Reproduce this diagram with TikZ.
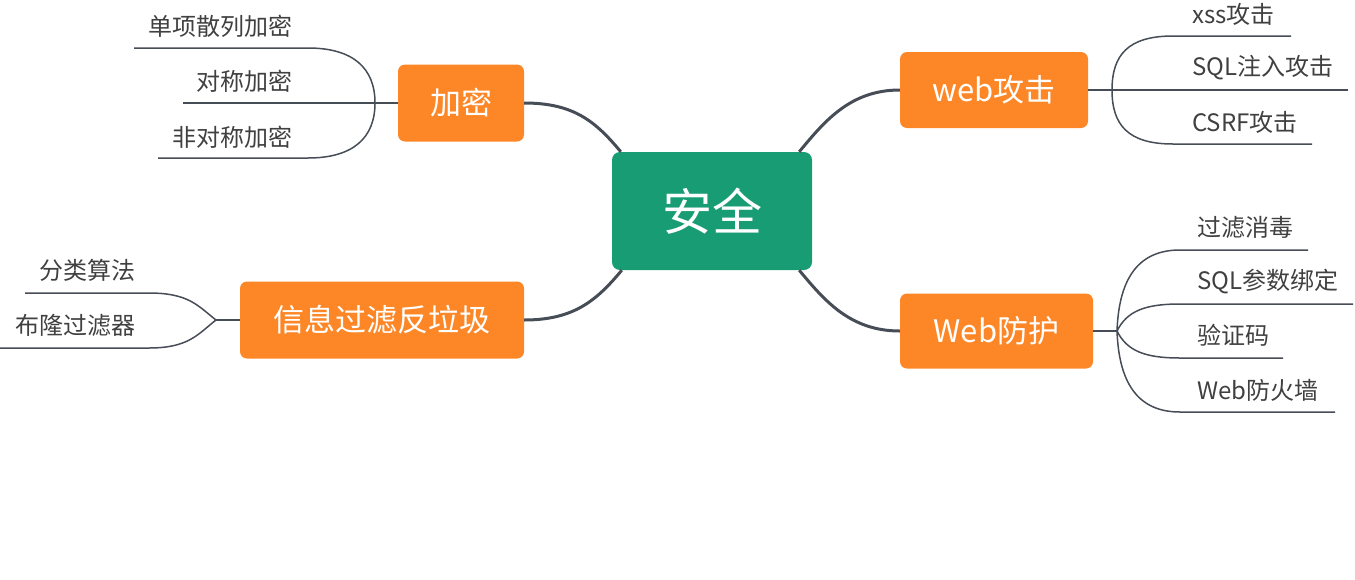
\documentclass[tikz,border=0pt]{standalone}
\usepackage{fontspec}
\newfontfamily\cjk{Noto Sans CJK SC}
\usetikzlibrary{calc}
\definecolor{orangebox}{HTML}{FD8726}
\definecolor{greenbox}{HTML}{189C73}
\definecolor{linec}{HTML}{464D56}
\definecolor{textc}{HTML}{404040}
\begin{document}
\begin{tikzpicture}[x=1pt,y=-1pt,
  centerbox/.style={fill=greenbox, rounded corners=8pt, minimum width=200pt, minimum height=118pt, inner sep=0pt, text=white, font=\cjk\fontsize{50pt}{60pt}\selectfont},
  branchbox/.style={fill=orangebox, rounded corners=7pt, inner sep=0pt, text=white, font=\cjk\fontsize{31pt}{37pt}\selectfont},
  leaf/.style={inner sep=0pt, text=textc, font=\cjk\fontsize{24pt}{29pt}\selectfont},
  leafline/.style={draw=linec, line width=1.5pt},
  stem/.style={draw=linec, line width=2.2pt},
  mainlink/.style={draw=linec, line width=3pt}]
\useasboundingbox (0,0) rectangle (1355,579);

% central and branch nodes
\node[centerbox] (c) at (712,211) {安全};
\node[branchbox, minimum width=126pt, minimum height=77pt] (b1) at (461,103) {加密};
\node[branchbox, minimum width=284pt, minimum height=77pt] (b2) at (382,320) {信息过滤反垃圾};
\node[branchbox, minimum width=188pt, minimum height=76pt] (b3) at (994,90) {web攻击};
\node[branchbox, minimum width=193pt, minimum height=75pt] (b4) at (996.5,331) {Web防护};

% main links
\draw[mainlink] (b1.east) .. controls +(50,0) and +(-25,-30) .. ($(c.north west)+(9,0)$);
\draw[mainlink] (b2.east) .. controls +(50,0) and +(-25,30) .. ($(c.south west)+(10,0)$);
\draw[mainlink] (b3.west) .. controls +(-50,0) and +(25,-30) .. ($(c.north east)+(-13,0)$);
\draw[mainlink] (b4.west) .. controls +(-50,0) and +(25,30) .. ($(c.south east)+(-13,0)$);

% group 1: 加密
\coordinate (j1) at (375,103);
\coordinate (s11) at (134,48); \coordinate (e11) at (308,48);
\coordinate (s12) at (183,103);
\coordinate (s13) at (158,158); \coordinate (e13) at (308,158);
\node[leaf, anchor=east] (l11) at (293,26) {单项散列加密};
\node[leaf, anchor=east] (l12) at (293,81) {对称加密};
\node[leaf, anchor=east] (l13) at (293,137) {非对称加密};
\draw[leafline] (s11) -- (e11) .. controls +(45,0) and +(0,-35) .. (j1);
\draw[leafline] (s12) -- (j1);
\draw[leafline] (s13) -- (e13) .. controls +(45,0) and +(0,35) .. (j1);
\draw[stem] (j1) -- (b1.west);

% group 2: 信息过滤反垃圾
\coordinate (j2) at (216,320);
\coordinate (s21) at (25,293); \coordinate (e21) at (149,293);
\coordinate (s22) at (0,348); \coordinate (e22) at (149,348);
\node[leaf, anchor=east] (l21) at (136,270) {分类算法};
\node[leaf, anchor=east] (l22) at (136,325) {布隆过滤器};
\draw[leafline] (s21) -- (e21) .. controls +(40,0) and +(-18,-14) .. (j2);
\draw[leafline] (s22) -- (e22) .. controls +(40,0) and +(-18,14) .. (j2);
\draw[stem] (j2) -- (b2.west);

% group 3: web攻击
\coordinate (j3) at (1112,90);
\coordinate (e31) at (1173,36); \coordinate (t31) at (1291,36);
\coordinate (t32) at (1348,90);
\coordinate (e33) at (1173,144); \coordinate (t33) at (1312,144);
\node[leaf, anchor=west] (l31) at (1192,14) {xss攻击};
\node[leaf, anchor=west] (l32) at (1192,68) {SQL注入攻击};
\node[leaf, anchor=west] (l33) at (1192,122) {CSRF攻击};
\draw[leafline] (j3) .. controls +(0,-35) and +(-45,0) .. (e31) -- (t31);
\draw[leafline] (j3) -- (t32);
\draw[leafline] (j3) .. controls +(0,35) and +(-45,0) .. (e33) -- (t33);
\draw[stem] (b3.east) -- (j3);

% group 4: Web防护
\coordinate (j4) at (1117,331);
\coordinate (e41) at (1180,250); \coordinate (t41) at (1308,250);
\coordinate (e42) at (1180,304); \coordinate (t42) at (1353,304);
\coordinate (e43) at (1180,358); \coordinate (t43) at (1283,358);
\coordinate (e44) at (1180,412); \coordinate (t44) at (1335,412);
\node[leaf, anchor=west] (l41) at (1197,227.5) {过滤消毒};
\node[leaf, anchor=west] (l42) at (1197,282) {SQL参数绑定};
\node[leaf, anchor=west] (l43) at (1197,335) {验证码};
\node[leaf, anchor=west] (l44) at (1197,390) {Web防火墙};
\draw[leafline] (j4) .. controls +(2,-55) and +(-40,0) .. (e41) -- (t41);
\draw[leafline] (j4) .. controls +(10,-20) and +(-35,0) .. (e42) -- (t42);
\draw[leafline] (j4) .. controls +(10,20) and +(-35,0) .. (e43) -- (t43);
\draw[leafline] (j4) .. controls +(2,55) and +(-40,0) .. (e44) -- (t44);
\draw[stem] (b4.east) -- (j4);
\end{tikzpicture}
\end{document}
